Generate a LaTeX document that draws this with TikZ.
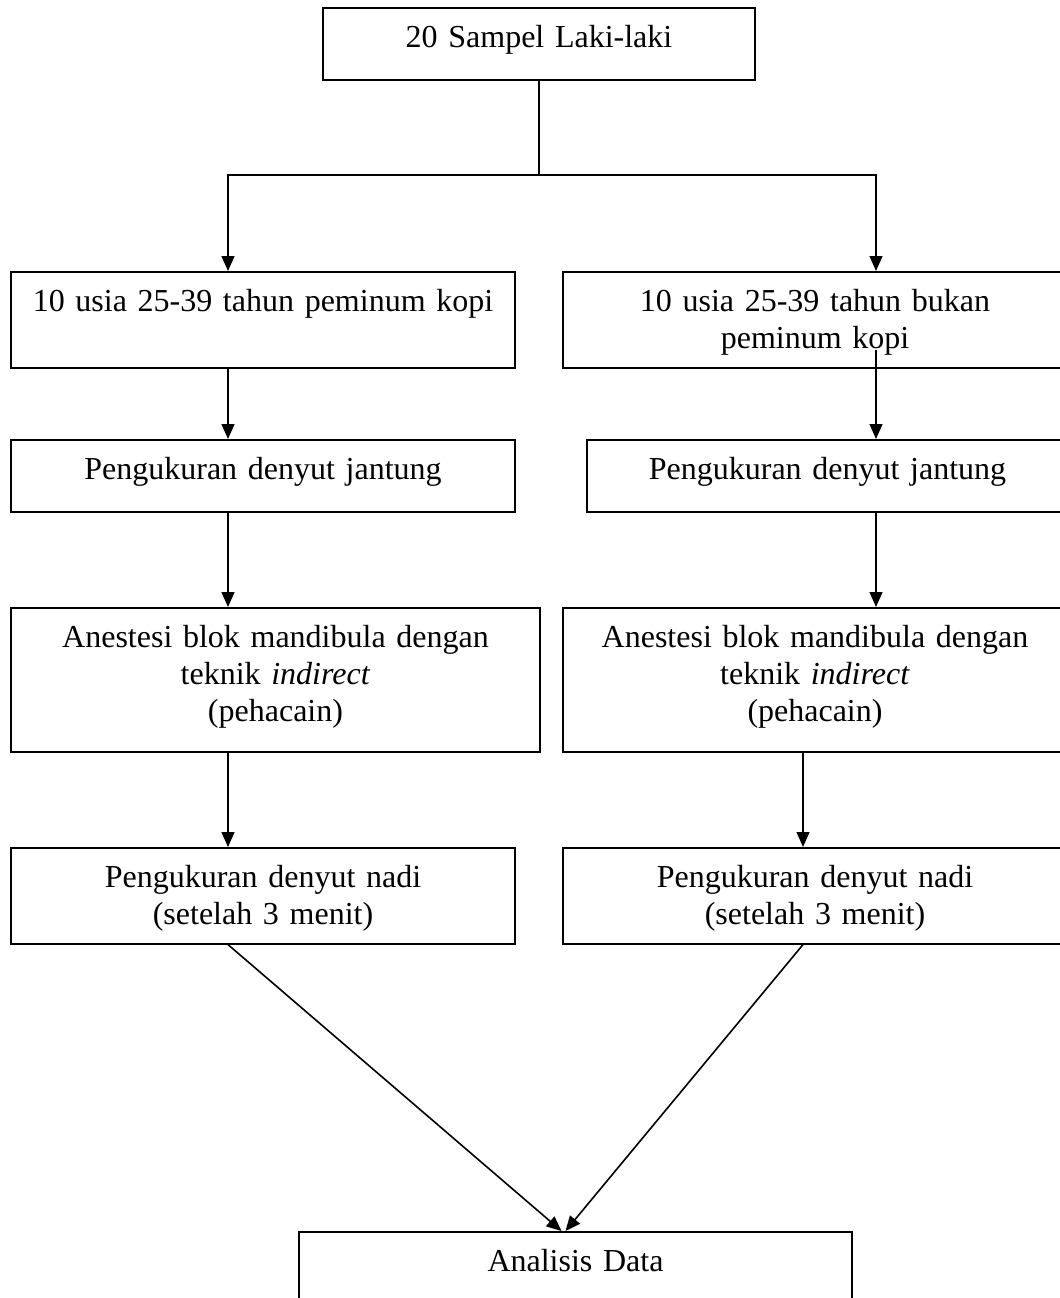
\documentclass[tikz,border=0pt]{standalone}
\usepackage{fontspec}
\setmainfont[WordSpace=0.72]{Liberation Serif}
\usetikzlibrary{arrows.meta, calc}

\begin{document}
\begin{tikzpicture}[
		x=0.375pt, y=-0.375pt,
		box/.style={draw, rectangle, line width=0.6pt, inner xsep=0pt, inner ysep=0pt, anchor=north, align=center, font=\fontsize{12pt}{13.875pt}\selectfont, text height=15pt},
		arrow/.style={-{Triangle[width=4.8pt, length=5.6pt]}, line width=0.6pt},
		link/.style={line width=0.6pt}
		]
		\useasboundingbox (0,0) rectangle (1060,1298);
		\clip (0,0) rectangle (1060,1298);

		% Boxes
		\node[box, text width=162pt, text depth=12pt] (sampel) at (539,7) {20 Sampel Laki-laki};
		\node[box, text width=189pt, text depth=21pt] (kopiL) at (263,271) {10 usia 25-39 tahun peminum kopi};
		\node[box, text width=189pt, text depth=21pt] (kopiR) at (815,271) {10 usia 25-39 tahun bukan\\peminum kopi};
		\node[box, text width=189pt, text depth=12pt] (jantungL) at (263,439) {Pengukuran denyut jantung};
		\node[box, text width=180.375pt, text depth=12pt] (jantungR) at (827.5,439) {Pengukuran denyut jantung};
		\node[box, text width=198.375pt, text depth=39pt] (anesL) at (275.5,607) {Anestesi blok mandibula dengan\\teknik \textit{indirect}\\(pehacain)};
		\node[box, text width=189pt, text depth=39pt] (anesR) at (815,607) {Anestesi blok mandibula dengan\\teknik \textit{indirect}\\(pehacain)};
		\node[box, text width=189pt, text depth=21pt] (nadiL) at (263,847) {Pengukuran denyut nadi\\(setelah 3 menit)};
		\node[box, text width=189pt, text depth=21pt] (nadiR) at (815,847) {Pengukuran denyut nadi\\(setelah 3 menit)};
		\node[box, text width=207.375pt, text depth=21pt] (analisis) at (575.5,1231) {Analisis Data};

		% Connectors
		\coordinate (cabang) at (539,175);
		\coordinate (lcol) at (228,0);
		\coordinate (rcol) at (876,0);
		\coordinate (rcolb) at (803,0);
		\coordinate (kopi) at (876,350);

		\draw[link] (sampel.south) -- (cabang);
		\draw[arrow] (cabang) -| (lcol |- kopiL.north);
		\draw[arrow] (cabang) -| (rcol |- kopiR.north);
		\draw[arrow] (lcol |- kopiL.south) -- (lcol |- jantungL.north);
		\draw[arrow] (kopi) -- (rcol |- jantungR.north);
		\draw[arrow] (lcol |- jantungL.south) -- (lcol |- anesL.north);
		\draw[arrow] (rcol |- jantungR.south) -- (rcol |- anesR.north);
		\draw[arrow] (lcol |- anesL.south) -- (lcol |- nadiL.north);
		\draw[arrow] (rcolb |- anesR.south) -- (rcolb |- nadiR.north);
		\draw[arrow] (lcol |- nadiL.south) -- ($(analisis.north)+(-14,0)$);
		\draw[arrow] (rcolb |- nadiR.south) -- ($(analisis.north)+(-10,0)$);
	\end{tikzpicture}
\end{document}
